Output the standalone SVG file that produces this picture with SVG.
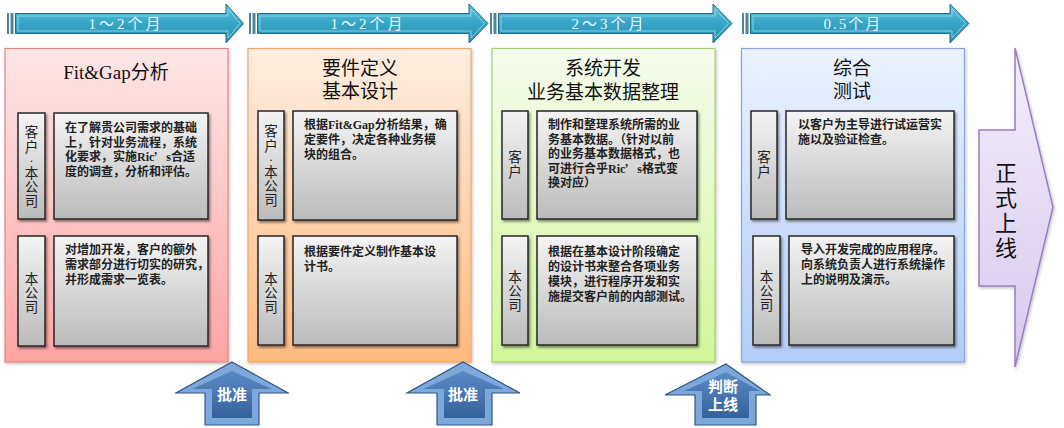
<svg xmlns="http://www.w3.org/2000/svg" width="1064" height="428" viewBox="0 0 1064 428">
<defs>
<linearGradient id="gP1" x1="0" y1="0" x2="0" y2="1"><stop offset="0" stop-color="#FDE6E6"/><stop offset="1" stop-color="#FFA4A4"/></linearGradient>
<linearGradient id="gP2" x1="0" y1="0" x2="0" y2="1"><stop offset="0" stop-color="#FFEEE2"/><stop offset="1" stop-color="#FFBA7E"/></linearGradient>
<linearGradient id="gP3" x1="0" y1="0" x2="0" y2="1"><stop offset="0" stop-color="#F6FCEE"/><stop offset="1" stop-color="#D2F59A"/></linearGradient>
<linearGradient id="gP4" x1="0" y1="0" x2="0" y2="1"><stop offset="0" stop-color="#EBF2FD"/><stop offset="1" stop-color="#B4CCF7"/></linearGradient>
<linearGradient id="gBox" x1="0" y1="0" x2="0" y2="1"><stop offset="0" stop-color="#F4F4F4"/><stop offset="1" stop-color="#BBBBBB"/></linearGradient>
<linearGradient id="gTop" x1="0" y1="0" x2="0" y2="1"><stop offset="0" stop-color="#62C3DE"/><stop offset="0.5" stop-color="#36A5C6"/><stop offset="1" stop-color="#2B8EAF"/></linearGradient>
<linearGradient id="gGo" x1="0" y1="0" x2="0" y2="1"><stop offset="0" stop-color="#F3EDF9"/><stop offset="1" stop-color="#D7C9EE"/></linearGradient>
<linearGradient id="gUp" x1="0" y1="0" x2="0" y2="1"><stop offset="0" stop-color="#5A8AC6"/><stop offset="1" stop-color="#36629B"/></linearGradient>
<filter id="sh" x="-10%" y="-10%" width="130%" height="130%"><feDropShadow dx="1.5" dy="2" stdDeviation="1.2" flood-color="#000" flood-opacity="0.45"/></filter>
<filter id="shs" x="-10%" y="-10%" width="130%" height="130%"><feDropShadow dx="1" dy="1.5" stdDeviation="1.5" flood-color="#000" flood-opacity="0.25"/></filter>
</defs>
<style>
.t{font-family:"Liberation Serif","Noto Sans CJK SC",serif;}
.cjk{font-family:"Noto Sans CJK SC",sans-serif;}
.ttl{font-size:19px;fill:#111;text-anchor:middle;dominant-baseline:central;}
.lbl{font-size:13.5px;fill:#222;text-anchor:middle;dominant-baseline:central;}
.body{font-size:12px;font-weight:bold;fill:#222;dominant-baseline:central;}
.box{fill:url(#gBox);stroke:#262626;stroke-width:1.5;filter:url(#sh);}
.tarr{fill:url(#gTop);stroke:#1D6F8C;stroke-width:1;}
.tin{fill:none;stroke:#9ADDEF;stroke-width:1;opacity:0.8;}
.strip{fill:#4F8594;}
.ttxt{font-size:15px;fill:#E8F6FB;text-anchor:middle;dominant-baseline:central;letter-spacing:3px;}
.up{fill:#7EA7DA;stroke:#2F5584;stroke-width:1.2;}
.upin{fill:url(#gUp);}
.uptxt{font-size:15px;font-weight:bold;fill:#fff;text-anchor:middle;dominant-baseline:central;}
</style>

<g id="timeline">
<g id="dur1">
<rect class="strip" x="7" y="13" width="2" height="21"/><rect class="strip" x="10.5" y="13" width="3" height="21"/>
<path class="tarr" d="M15.5,13.5 L226,13.5 L226,4 L243.5,23.5 L226,43 L226,33.5 L15.5,33.5 Z"/>
<path class="tin" d="M18,16 L228,16 L228,9 L240,23.5 L228,38 L228,31 L18,31 Z"/>
<text class="t ttxt" x="126" y="24">1～2个月</text>
</g>
<g id="dur2">
<rect class="strip" x="249" y="13" width="2" height="21"/><rect class="strip" x="252.5" y="13" width="3" height="21"/>
<path class="tarr" d="M257.5,13.5 L469,13.5 L469,4 L488,23.5 L469,43 L469,33.5 L257.5,33.5 Z"/>
<path class="tin" d="M260,16 L471,16 L471,9 L484.5,23.5 L471,38 L471,31 L260,31 Z"/>
<text class="t ttxt" x="368" y="24">1～2个月</text>
</g>
<g id="dur3">
<rect class="strip" x="490" y="13" width="2" height="21"/><rect class="strip" x="493.5" y="13" width="3" height="21"/>
<path class="tarr" d="M498.5,13.5 L713,13.5 L713,4 L732,23.5 L713,43 L713,33.5 L498.5,33.5 Z"/>
<path class="tin" d="M501,16 L715,16 L715,9 L728.5,23.5 L715,38 L715,31 L501,31 Z"/>
<text class="t ttxt" x="609" y="24">2～3个月</text>
</g>
<g id="dur4">
<rect class="strip" x="742" y="13" width="2" height="21"/><rect class="strip" x="745.5" y="13" width="3" height="21"/>
<path class="tarr" d="M750.5,13.5 L950,13.5 L950,4 L969,23.5 L950,43 L950,33.5 L750.5,33.5 Z"/>
<path class="tin" d="M753,16 L952,16 L952,9 L965.5,23.5 L952,38 L952,31 L753,31 Z"/>
<text class="t ttxt" x="853" y="24" style="letter-spacing:2px">0.5个月</text>
</g>
</g>

<g id="phase1">
<rect x="5" y="48.5" width="223" height="313.5" fill="url(#gP1)" stroke="#E08888" stroke-width="1.2" filter="url(#shs)"/>
<text class="t ttl" x="116" y="72">Fit&amp;Gap分析</text>
<rect class="box" x="18" y="113" width="27" height="106"/>
<text class="t lbl" x="31.5"><tspan x="31.5" y="132">客</tspan><tspan x="31.5" y="147">户</tspan><tspan x="31.5" y="160">·</tspan><tspan x="31.5" y="173">本</tspan><tspan x="31.5" y="187">公</tspan><tspan x="31.5" y="201">司</tspan></text>
<rect class="box" x="54" y="113" width="154" height="106"/>
<text class="t body" x="65"><tspan x="65" y="128">在了解贵公司需求的基础</tspan><tspan x="65" y="142.5">上，针对业务流程，系统</tspan><tspan x="65" y="157">化要求，实施Ric<tspan class="cjk">’</tspan>s合适</tspan><tspan x="65" y="171.5">度的调查，分析和评估。</tspan></text>
<rect class="box" x="18" y="236" width="27" height="110"/>
<text class="t lbl" x="31.5"><tspan x="31.5" y="279">本</tspan><tspan x="31.5" y="293">公</tspan><tspan x="31.5" y="307">司</tspan></text>
<rect class="box" x="54" y="236" width="154" height="110"/>
<text class="t body" x="65"><tspan x="65" y="250">对增加开发，客户的额外</tspan><tspan x="65" y="265">需求部分进行切实的研究，</tspan><tspan x="65" y="280">并形成需求一览表。</tspan></text>
</g>

<g id="phase2">
<rect x="248" y="48.5" width="223" height="313.5" fill="url(#gP2)" stroke="#F4A468" stroke-width="1.2" filter="url(#shs)"/>
<text class="t ttl" x="360"><tspan x="360" y="68">要件定义</tspan><tspan x="360" y="91">基本设计</tspan></text>
<rect class="box" x="258" y="111" width="26" height="109"/>
<text class="t lbl" x="271"><tspan x="271" y="131">客</tspan><tspan x="271" y="146">户</tspan><tspan x="271" y="159">·</tspan><tspan x="271" y="172">本</tspan><tspan x="271" y="186">公</tspan><tspan x="271" y="200">司</tspan></text>
<rect class="box" x="293" y="111" width="164" height="109"/>
<text class="t body" x="304"><tspan x="304" y="125">根据Fit&amp;Gap分析结果，确</tspan><tspan x="304" y="140">定要件，决定各种业务模</tspan><tspan x="304" y="155">块的组合。</tspan></text>
<rect class="box" x="258" y="236" width="26" height="109"/>
<text class="t lbl" x="271"><tspan x="271" y="279">本</tspan><tspan x="271" y="293">公</tspan><tspan x="271" y="307">司</tspan></text>
<rect class="box" x="293" y="236" width="164" height="109"/>
<text class="t body" x="304"><tspan x="304" y="252">根据要件定义制作基本设</tspan><tspan x="304" y="267">计书。</tspan></text>
</g>

<g id="phase3">
<rect x="492" y="48.5" width="223" height="313.5" fill="url(#gP3)" stroke="#A8CF72" stroke-width="1.2" filter="url(#shs)"/>
<text class="t ttl" x="603"><tspan x="603" y="68">系统开发</tspan><tspan x="603" y="92">业务基本数据整理</tspan></text>
<rect class="box" x="502" y="111" width="26" height="108"/>
<text class="t lbl" x="515"><tspan x="515" y="157">客</tspan><tspan x="515" y="172">户</tspan></text>
<rect class="box" x="537" y="111" width="160" height="108"/>
<text class="t body" x="548"><tspan x="548" y="125">制作和整理系统所需的业</tspan><tspan x="548" y="139.5">务基本数据。（针对以前</tspan><tspan x="548" y="154">的业务基本数据格式，也</tspan><tspan x="548" y="168.5">可进行合乎Ric<tspan class="cjk">’</tspan>s格式变</tspan><tspan x="548" y="183">换对应）</tspan></text>
<rect class="box" x="502" y="236" width="26" height="109"/>
<text class="t lbl" x="515"><tspan x="515" y="277">本</tspan><tspan x="515" y="291">公</tspan><tspan x="515" y="305">司</tspan></text>
<rect class="box" x="537" y="236" width="160" height="109"/>
<text class="t body" x="548"><tspan x="548" y="252">根据在基本设计阶段确定</tspan><tspan x="548" y="267">的设计书来整合各项业务</tspan><tspan x="548" y="282">模块，进行程序开发和实</tspan><tspan x="548" y="297">施提交客户前的内部测试。</tspan></text>
</g>

<g id="phase4">
<rect x="741.5" y="48.5" width="223" height="313.5" fill="url(#gP4)" stroke="#84A4E0" stroke-width="1.2" filter="url(#shs)"/>
<text class="t ttl" x="852"><tspan x="852" y="68">综合</tspan><tspan x="852" y="91">测试</tspan></text>
<rect class="box" x="751" y="111" width="26" height="108"/>
<text class="t lbl" x="764"><tspan x="764" y="157">客</tspan><tspan x="764" y="172">户</tspan></text>
<rect class="box" x="786" y="111" width="168" height="108"/>
<text class="t body" x="798"><tspan x="798" y="125">以客户为主导进行试运营实</tspan><tspan x="798" y="140">施以及验证检查。</tspan></text>
<rect class="box" x="753" y="236" width="27" height="109"/>
<text class="t lbl" x="766.5"><tspan x="766.5" y="277">本</tspan><tspan x="766.5" y="291">公</tspan><tspan x="766.5" y="305">司</tspan></text>
<rect class="box" x="789" y="236" width="165" height="109"/>
<text class="t body" x="801"><tspan x="801" y="250">导入开发完成的应用程序。</tspan><tspan x="801" y="265">向系统负责人进行系统操作</tspan><tspan x="801" y="280">上的说明及演示。</tspan></text>
</g>

<g id="golive">
<path d="M979,130 L1015,130 L1015,48 L1053,207 L1015,367 L1015,286 L979,286 Z" fill="url(#gGo)" stroke="#9A7EC4" stroke-width="1.5" filter="url(#shs)"/>
<text class="t" font-size="22" fill="#111" text-anchor="middle" dominant-baseline="central"><tspan x="1006" y="173">正</tspan><tspan x="1006" y="198">式</tspan><tspan x="1006" y="223">上</tspan><tspan x="1006" y="248">线</tspan></text>
</g>

<g id="approve1">
<path class="up" d="M232,362 L288,393 L259,393 L259,425 L205,425 L205,393 L176,393 Z"/>
<path class="upin" d="M232,371 L272,389 L252,389 L252,418 L212,418 L212,389 L192,389 Z"/>
<text class="t uptxt" x="232" y="395">批准</text>
</g>
<g id="approve2">
<path class="up" d="M463,362 L520,393 L492,393 L492,425 L437,425 L437,393 L407,393 Z"/>
<path class="upin" d="M463,371 L504,389 L485,389 L485,418 L444,418 L444,389 L423,389 Z"/>
<text class="t uptxt" x="463" y="395">批准</text>
</g>
<g id="decide">
<path class="up" d="M726,364 L770,395 L756,395 L756,425 L695,425 L695,395 L665,395 Z"/>
<path class="upin" d="M726,372 L760,391 L749,391 L749,418 L702,418 L702,391 L684,391 Z"/>
<text class="t uptxt"><tspan x="723" y="387">判断</tspan><tspan x="723" y="405">上线</tspan></text>
</g>
<g id="connectors"/>
</svg>
